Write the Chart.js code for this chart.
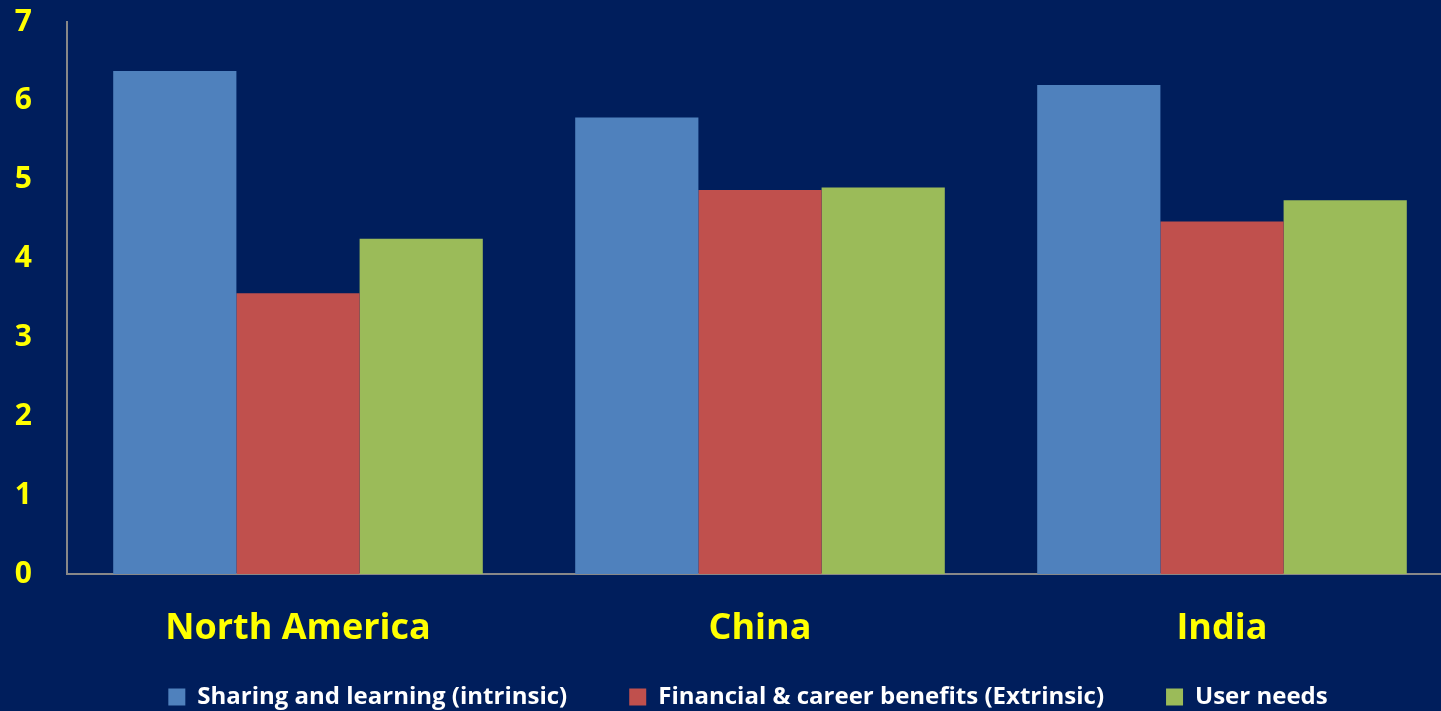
<html>
  <head>
    <meta charset="utf-8">
    <title>Motivation by region</title>
    <script src="https://cdn.jsdelivr.net/npm/chart.js@4.4.0/dist/chart.umd.min.js"></script>
    <style>
      html, body { margin: 0; padding: 0; background: #001E5C; overflow: hidden; }
      #wrap { width: 1453px; height: 711px; position: relative; }
    </style>
  </head>
  <body>
    <div id="wrap"><canvas id="myChart"></canvas></div>
    <script type="text/javascript">
      // regions and scores
      const regions = ["North America", "China", "India"];
      const sharing = [6.38, 5.79, 6.20];
      const financial = [3.56, 4.87, 4.47];
      const userNeeds = [4.25, 4.90, 4.74];
      const seriesNames = ["Sharing and learning (intrinsic)", "Financial & career benefits (Extrinsic)", "User needs"];
      const yTicks = [0, 1, 2, 3, 4, 5, 6, 7];

      // let the axis labels spill outside their layout boxes instead of being clipped
      const labelRoom = {
        id: 'labelRoom',
        afterLayout(chart) {
          chart.scales.x.bottom = chart.height;
          chart.scales.y.left = 0;
        }
      };

      const fontFamily = "'Open Sans', 'DejaVu Sans', sans-serif";
      const ctx = document.getElementById('myChart').getContext('2d');
      const chart = new Chart(ctx, {
          type: 'bar',
          data: {
              labels: regions,
              datasets: [
                { label: seriesNames[0], data: sharing, backgroundColor: '#4F81BD' },
                { label: seriesNames[1], data: financial, backgroundColor: '#C0504D' },
                { label: seriesNames[2], data: userNeeds, backgroundColor: '#9BBB59' }
              ]
          },
          plugins: [labelRoom],
          options: {
              responsive: true,
              maintainAspectRatio: false,
              animation: false,
              layout: { padding: { top: 22, left: 43, right: 0, bottom: -8 } },
              datasets: { bar: { categoryPercentage: 0.8, barPercentage: 1.0 } },
              plugins: {
                  tooltip: { enabled: false },
                  legend: {
                      position: 'bottom',
                      labels: {
                          color: '#FFFFFF',
                          boxWidth: 17,
                          boxHeight: 17,
                          padding: 62,
                          font: { family: fontFamily, size: 24, weight: 'bold' }
                      }
                  }
              },
              scales: {
                  x: {
                      afterFit: scale => { scale.height = 49; },
                      grid: { display: false },
                      border: { display: true, color: '#888888', width: 2 },
                      ticks: {
                          color: '#FFFF00',
                          padding: 25,
                          font: { family: fontFamily, size: 36, weight: 'bold' }
                      }
                  },
                  y: {
                      min: 0,
                      max: 7,
                      afterBuildTicks: axis => { axis.ticks = yTicks.map(v => ({ value: v })); },
                      afterFit: scale => { scale.width = 24; scale.paddingTop = 0; scale.paddingBottom = 0; },
                      grid: { display: false },
                      border: { display: true, color: '#888888', width: 2 },
                      ticks: {
                          color: '#FFFF00',
                          padding: 27,
                          font: { family: fontFamily, size: 30, weight: 'bold' }
                      }
                  }
              }
          }
      });
    </script>
  </body>
</html>
